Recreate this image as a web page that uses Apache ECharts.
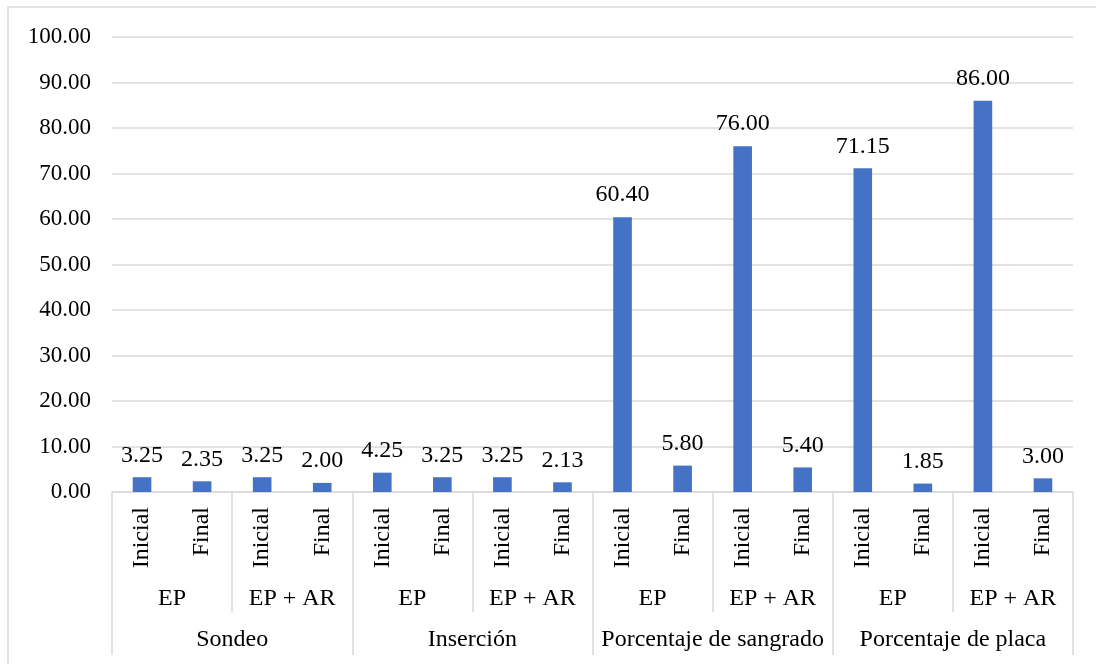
<!DOCTYPE html>
<html>
<head>
<meta charset="utf-8">
<script src="https://cdn.jsdelivr.net/npm/echarts@6/dist/echarts.min.js"></script>
<style>
  html, body { margin: 0; padding: 0; background: #fff; }
  #chart { width: 1096px; height: 664px; }
</style>
</head>
<body>
<div id="chart"></div>
<script>
// three levels of categories, bottom to top
var momentos = ['Inicial', 'Final', 'Inicial', 'Final', 'Inicial', 'Final', 'Inicial', 'Final',
                'Inicial', 'Final', 'Inicial', 'Final', 'Inicial', 'Final', 'Inicial', 'Final'];
var grupos = ['EP', 'EP + AR', 'EP', 'EP + AR', 'EP', 'EP + AR', 'EP', 'EP + AR'];
var indices = ['Sondeo', 'Inserción', 'Porcentaje de sangrado', 'Porcentaje de placa'];
var valores = [3.25, 2.35, 3.25, 2.00, 4.25, 3.25, 3.25, 2.13,
               60.40, 5.80, 76.00, 5.40, 71.15, 1.85, 86.00, 3.00];

var font = '"Liberation Serif", "Times New Roman", serif';
var gris = '#d9d9d9';

var chart = echarts.init(document.getElementById('chart'));
var option = {
  animation: false,
  graphic: [{
    type: 'rect',
    shape: { x: 8, y: 7, width: 1120, height: 720 },
    style: { fill: 'none', stroke: gris, lineWidth: 1.5 },
    silent: true
  }],
  grid: { left: 112, right: 23, top: 37, bottom: 172 },
  xAxis: [
    {
      type: 'category',
      data: momentos,
      position: 'bottom',
      axisLine: { show: true, lineStyle: { color: gris, width: 1.5 } },
      axisTick: { show: false },
      axisLabel: { rotate: 90, margin: 15, color: '#000', fontFamily: font, fontSize: 24, interval: 0 }
    },
    {
      type: 'category',
      data: grupos,
      position: 'bottom',
      axisLine: { show: false },
      axisTick: { show: true, length: 120, lineStyle: { color: gris, width: 1.5 } },
      axisLabel: { margin: 95, color: '#000', fontFamily: font, fontSize: 24, interval: 0 }
    },
    {
      type: 'category',
      data: indices,
      position: 'bottom',
      axisLine: { show: false },
      axisTick: { show: true, length: 163, lineStyle: { color: gris, width: 1.5 } },
      axisLabel: { margin: 136, color: '#000', fontFamily: font, fontSize: 24, interval: 0 }
    }
  ],
  yAxis: {
    type: 'value',
    min: 0,
    max: 100,
    interval: 10,
    axisLine: { show: false },
    axisTick: { show: false },
    splitLine: { lineStyle: { color: gris, width: 1.5 } },
    axisLabel: {
      margin: 21, color: '#000', fontFamily: font, fontSize: 23,
      formatter: function (v) { return v.toFixed(2); }
    }
  },
  series: [{
    type: 'bar',
    xAxisIndex: 0,
    data: valores,
    barWidth: '31%',
    itemStyle: { color: '#4472c4' },
    label: {
      show: true,
      position: 'top',
      distance: 10,
      color: '#000',
      fontFamily: font,
      fontSize: 24,
      formatter: function (p) { return p.value.toFixed(2); }
    }
  }]
};
chart.setOption(option);
</script>
</body>
</html>
